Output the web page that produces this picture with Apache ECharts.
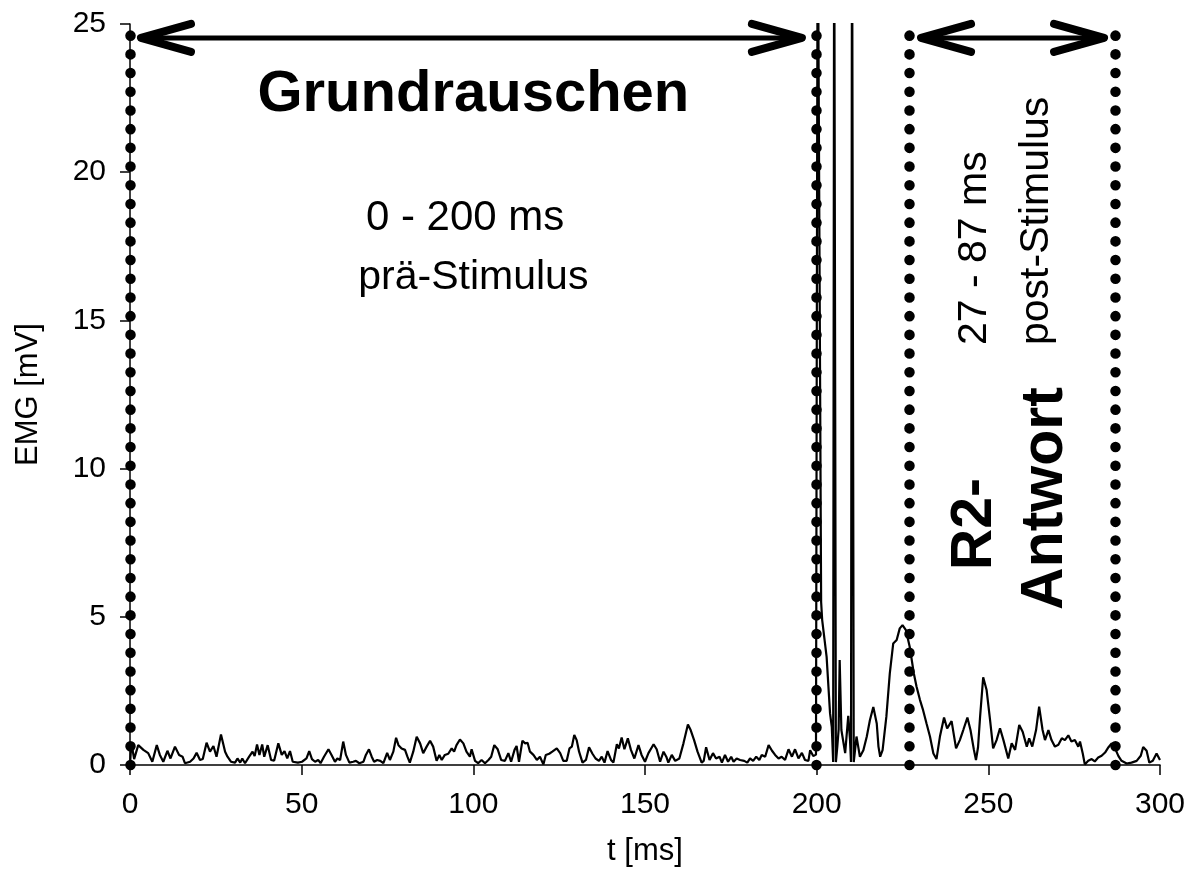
<!DOCTYPE html>
<html><head><meta charset="utf-8">
<script src="https://cdn.jsdelivr.net/npm/echarts@6/dist/echarts.min.js"></script>
<style>html,body{margin:0;padding:0;background:#fff}#c{width:1190px;height:886px}</style>
</head><body><div id="c"></div>
<script>
// EMG trace vertices (time in ms, amplitude in mV)
const timeMs = [0,0.4,1.2,2.4,3.9,5.3,6.5,7.8,8.7,9.7,10.9,11.8,13.1,14.3,15.3,16.0,17.5,18.5,19.4,20.4,21.2,22.3,23.3,24.3,25.2,26.5,27.7,28.4,29.4,30.6,31.3,32.1,32.7,33.5,34.7,35.7,36.3,37.0,37.7,38.5,39.1,40.1,41.1,42.0,43.2,44.2,45.0,45.8,46.6,47.4,48.9,50.1,51.4,52.2,53.0,53.9,54.8,55.5,56.5,57.8,58.7,59.7,60.4,61.2,62.1,62.9,63.9,65.0,65.8,66.8,68.0,68.7,69.6,70.4,71.1,72.0,72.9,73.8,74.9,75.7,76.7,77.5,78.2,79.1,80.1,80.8,81.5,82.5,83.5,84.5,85.4,86.4,87.4,88.3,89.3,90.1,90.8,91.7,92.7,93.7,94.4,95.1,96.1,97.1,98.0,99.0,99.5,100.5,101.4,102.4,103.4,104.4,105.2,106.1,107.1,108.1,109.2,110.2,111.0,112.0,112.6,113.3,114.3,115.1,115.8,116.5,117.5,118.5,119.4,120.4,121.1,122.1,123.0,124.3,125.3,126.2,127.2,128.0,128.7,129.4,130.1,130.8,131.8,132.8,133.7,134.7,135.6,136.6,137.4,138.2,139.1,140.1,140.8,141.8,142.4,143.2,144.0,145.0,145.9,146.9,148.1,149.0,150.0,151.0,152.0,152.5,153.4,154.4,155.4,156.2,156.8,157.8,158.8,160.0,161.2,162.5,163.3,164.3,165.3,166.5,167.1,167.8,168.8,169.8,170.7,171.7,172.4,173.3,174.2,175.1,175.8,176.7,177.7,178.9,179.8,180.6,181.5,182.4,183.3,184.0,185.0,186.0,187.0,187.9,188.9,189.8,190.8,191.8,192.8,193.7,194.7,195.7,196.6,197.6,198.1,199.0,199.8,200.3,201.3,201.6,202.9,203.9,204.4,204.8,205.1,205.6,206.0,206.4,206.7,207.2,208.3,209.2,209.7,210.0,210.3,210.8,211.6,212.1,212.6,213.6,214.6,215.5,216.5,217.0,217.5,218.0,218.5,219.2,220.3,221.3,222.3,223.3,224.2,225.0,226.0,227.1,228.3,229.1,230.1,231.0,232.0,233.0,234.0,234.9,235.9,237.1,238.0,239.3,240.6,241.7,242.7,243.9,244.8,245.8,246.4,247.0,247.6,248.5,249.5,250.5,251.4,252.4,253.4,254.4,255.8,256.8,257.8,259.0,260.0,261.2,261.9,262.8,263.9,264.8,265.8,266.5,267.5,268.4,269.4,270.4,271.4,272.3,273.3,274.2,275.2,276.2,276.7,277.5,278.1,279.1,280.1,281.0,282.0,283.0,284.0,285.0,285.9,286.9,287.9,288.8,290.3,291.7,293.2,294.4,295.1,296.1,296.9,297.9,299.0,300.0];
const emgMv = [0,0.75,0.2,0.67,0.51,0.4,0.11,0.67,0.34,0.11,0.48,0.22,0.62,0.34,0.28,0.06,0.11,0.22,0.41,0.17,0.2,0.75,0.45,0.64,0.28,1.03,0.45,0.28,0.11,0.08,0.22,0.08,0.22,0.06,0.28,0.45,0.3,0.69,0.34,0.69,0.28,0.67,0.17,0.15,0.73,0.34,0.47,0.22,0.47,0.11,0.08,0.11,0.22,0.47,0.2,0.11,0.17,0.06,0.28,0.53,0.34,0.11,0.22,0.17,0.79,0.34,0.08,0.11,0.14,0.06,0.11,0.34,0.53,0.28,0.11,0.17,0.14,0.06,0.41,0.17,0.45,0.92,0.67,0.56,0.51,0.28,0.08,0.45,0.95,0.73,0.4,0.62,0.82,0.62,0.14,0.34,0.17,0.34,0.38,0.56,0.45,0.67,0.86,0.73,0.45,0.28,0.53,0.14,0.06,0.17,0.06,0.17,0.28,0.67,0.53,0.17,0.14,0.4,0.11,0.51,0.64,0.11,0.82,0.73,0.75,0.45,0.34,0.17,0.28,0.02,0.34,0.38,0.45,0.56,0.4,0.14,0.14,0.56,0.62,1.01,0.84,0.45,0.08,0.17,0.6,0.38,0.22,0.14,0.28,0.08,0.47,0.17,0.08,0.7,0.56,0.93,0.53,0.9,0.51,0.22,0.67,0.34,0.11,0.4,0.6,0.7,0.53,0.11,0.45,0.28,0.08,0.34,0.14,0.22,0.73,1.37,1.18,0.84,0.45,0.08,0.14,0.6,0.17,0.4,0.22,0.28,0.08,0.34,0.11,0.28,0.11,0.22,0.17,0.14,0.08,0.22,0.14,0.28,0.17,0.34,0.28,0.67,0.48,0.34,0.22,0.28,0.17,0.53,0.28,0.53,0.22,0.41,0.17,0.14,0.5,0.3,0.35,30,5.5,4.9,3.65,1.74,1.29,0.1,30,0.1,0.6,1.2,3.54,1.18,0.4,1.66,0.87,0.1,30,0.1,0.96,0.62,0.28,0.5,0.96,1.51,1.96,1.96,1.4,0.62,0.28,0.5,1.63,3.09,4.1,4.22,4.61,4.72,4.55,3.99,3.09,2.64,2.19,1.85,1.4,0.96,0.39,0.2,0.96,1.6,1.23,1.48,0.56,0.84,1.18,1.6,1.18,0.51,0.17,0.6,1.63,2.96,2.53,1.52,0.56,0.84,1.24,0.84,0.22,0.73,0.51,1.35,1.12,0.62,0.9,0.62,1.18,1.97,1.18,0.84,1.18,0.84,0.62,0.68,0.9,0.84,1.0,0.79,0.84,0.62,0.79,0.39,0.02,0.14,0.2,0.12,0.25,0.31,0.42,0.6,0.73,0.56,0.3,0.14,0.05,0.08,0.14,0.31,0.61,0.48,0.08,0.14,0.39,0.17];

const xTicks = [0, 50, 100, 150, 200, 250, 300];
const yTicks = [0, 5, 10, 15, 20, 25];
const windowBounds = [0, 200, 227, 287];      // dotted vertical lines (ms)
const arrowStart = [3.2, 230.4];              // double arrows (ms)
const arrowEnd = [195.7, 283.7];
const arrowLevel = 24.53;                     // mV

const FONT = '"Liberation Sans", Arial, sans-serif';

const chart = echarts.init(document.getElementById('c'), null, {renderer: 'canvas'});

const traceData = timeMs.map((t, i) => [t, emgMv[i]]);
const arrowData = arrowStart.map((s, i) => [s, arrowEnd[i], arrowLevel]);

function renderArrow(params, api) {
  const a = api.coord([api.value(0), api.value(2)]);
  const b = api.coord([api.value(1), api.value(2)]);
  const L = 50, H = 14;
  const headStyle = {stroke: '#000', lineWidth: 8, lineCap: 'round', lineJoin: 'round', fill: null};
  return {
    type: 'group',
    children: [
      {type: 'line', shape: {x1: a[0], y1: a[1], x2: b[0], y2: b[1]}, style: {stroke: '#000', lineWidth: 5}},
      {type: 'polyline', shape: {points: [[a[0] + L, a[1] - H], [a[0], a[1]], [a[0] + L, a[1] + H]]}, style: headStyle},
      {type: 'polyline', shape: {points: [[b[0] - L, b[1] - H], [b[0], b[1]], [b[0] - L, b[1] + H]]}, style: headStyle}
    ]
  };
}

const option = {
  animation: false,
  backgroundColor: '#fff',
  grid: {left: 130, right: 30, top: 24, bottom: 121, containLabel: false},
  xAxis: {
    type: 'value', min: xTicks[0], max: xTicks[xTicks.length - 1], interval: 50,
    name: 't [ms]', nameLocation: 'middle', nameGap: 71,
    nameTextStyle: {fontFamily: FONT, fontSize: 31, color: '#000'},
    axisLine: {show: true, onZero: false, lineStyle: {color: '#000', width: 1.5}},
    axisTick: {show: true, inside: false, length: 10, lineStyle: {color: '#000', width: 1.5}},
    axisLabel: {fontFamily: FONT, fontSize: 30, color: '#000', margin: 25},
    splitLine: {show: false}
  },
  yAxis: {
    type: 'value', min: yTicks[0], max: yTicks[yTicks.length - 1], interval: 5,
    name: 'EMG [mV]', nameLocation: 'middle', nameGap: 86, nameRotate: 90,
    nameTextStyle: {fontFamily: FONT, fontSize: 31, color: '#000'},
    axisLine: {show: true, onZero: false, lineStyle: {color: '#000', width: 1.5}},
    axisTick: {show: true, inside: false, length: 10, lineStyle: {color: '#000', width: 1.5}},
    axisLabel: {fontFamily: FONT, fontSize: 30, color: '#000', margin: 24},
    splitLine: {show: false}
  },
  series: [
    {
      type: 'line', data: traceData, showSymbol: false, symbol: 'none',
      lineStyle: {color: '#000', width: 2.2}, clip: true, silent: true, z: 3
    },
    {
      type: 'line', data: [], silent: true, z: 4,
      markLine: {
        silent: true, symbol: ['none', 'none'], label: {show: false},
        lineStyle: {color: '#000', width: 10.5, type: [0.1, 18.6], cap: 'round'},
        emphasis: {disabled: true},
        data: windowBounds.map(t => [{coord: [t, 0]}, {coord: [t, 25]}])
      }
    },
    {
      type: 'custom', data: arrowData, encode: {x: [0, 1], y: 2},
      renderItem: renderArrow, silent: true, z: 5, clip: false
    }
  ]
};
chart.setOption(option);

// Annotation texts anchored in data coordinates
const notes = [
  {text: 'Grundrauschen', t: 100, v: 22.6, size: 58, bold: true, rot: 0, align: 'center'},
  {text: '0 - 200 ms', t: 97.6, v: 18.45, size: 42, bold: false, rot: 0, align: 'center'},
  {text: 'prä-Stimulus', t: 100, v: 16.43, size: 41, bold: false, rot: 0, align: 'center'},
  {text: '27 - 87 ms', t: 246.1, v: 14.17, size: 41, bold: false, rot: 90, align: 'left'},
  {text: 'post-Stimulus', t: 264.2, v: 14.17, size: 41, bold: false, rot: 90, align: 'left'},
  {text: 'R2-', t: 246.1, v: 6.58, size: 57, bold: true, rot: 90, align: 'left'},
  {text: 'Antwort', t: 266.8, v: 5.23, size: 59, bold: true, rot: 90, align: 'left'}
];
const graphic = notes.map(n => {
  const p = chart.convertToPixel({gridIndex: 0}, [n.t, n.v]);
  return {
    type: 'text', x: p[0], y: p[1], rotation: n.rot * Math.PI / 180, z: 10, silent: true,
    style: {
      text: n.text, fill: '#000', font: (n.bold ? 'bold ' : '') + n.size + 'px ' + FONT,
      align: n.align, verticalAlign: 'middle'
    }
  };
});
chart.setOption({graphic: graphic});
</script>
</body></html>
